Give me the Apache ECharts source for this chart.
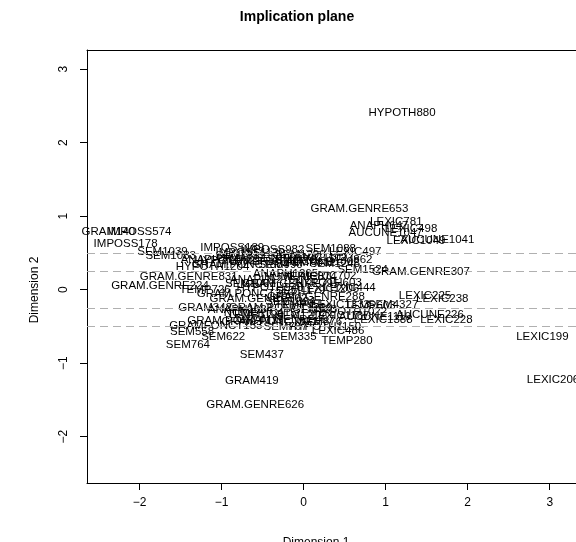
<!DOCTYPE html>
<html>
<head>
<meta charset="utf-8">
<script src="https://cdn.jsdelivr.net/npm/echarts@6/dist/echarts.min.js"></script>
<style>
  html, body { margin: 0; padding: 0; background: #fff; }
  #chart { width: 576px; height: 542px; }
</style>
</head>
<body>
<div id="chart"></div>
<script>
// Modality labels and their coordinates on the first two dimensions
const labels = [
  'HYPOTH880', 'GRAM.GENRE653', 'LEXIC781', 'ANAPH647', 'LEXIC498', 'AUCUNE1047',
  'LEXIC1049', 'AUCUNE1041', 'IMPOSS574', 'GRAM140', 'IMPOSS178', 'SEM1039',
  'SEM1033', 'IMPOSS189', 'IMPOSS982', 'SEM1088', 'LEXIC497', 'SEM862',
  'HYPOTH1204', 'GRAM.GENRE307', 'SEM1524', 'NUMERIC874', 'GRAM.GENRE831', 'GRAM.GENRE224',
  'ANAPH1276', 'TEMP726', 'GRAM.PONCT356', 'LEXIC444', 'HYPOTH603', 'GRAM.GENRE288',
  'LEXIC225', 'LEXIC238', 'SEM4327', 'AUCUNE226', 'LEXIC228', 'LEXIC1388',
  'LEXIC486', 'TEMP280', 'SEM335', 'GRAMFONCT153', 'SEM767', 'HYPOTH1150',
  'GRAM.PONCT117', 'SEM558', 'SEM622', 'SEM764', 'SEM437', 'GRAM419',
  'GRAM.GENRE626', 'GRAM342', 'TEMP1190', 'LEXIC199', 'LEXIC206',
  'SEM1311', 'GRAM.GENRE910', 'SEM1290', 'LEXIC1102', 'HYPOTH921', 'NUMERIC640',
  'SEM1172', 'AUCUNE1002', 'GRAM.PONCT884', 'SEM990', 'TEMP812', 'ANAPH774',
  'SEM1245', 'IMPOSS1120', 'ANAPH1265', 'NUMERIC702', 'SEM1061', 'GRAM.GENRE795',
  'LEXIC1206', 'HYPOTH948', 'SEM1179', 'GRAM.GENRE502', 'SEM1384', 'LEXIC1333',
  'TEMP603', 'GRAM.PONCT1210', 'SEM933', 'HYPOTH1022', 'NUMERIC415', 'SEM1217',
  'LEXIC1167', 'AUCUNE1119', 'GRAM.GENRE467', 'SEM876', 'TEMP955', 'ANAPH1084',
  'GRAM.PONCT671'
];
const dim1 = [
  1.20, 0.68, 1.13, 0.92, 1.31, 1.00,
  1.37, 1.63, -2.00, -2.38, -2.17, -1.72,
  -1.62, -0.87, -0.38, 0.33, 0.63, 0.57,
  -1.11, 1.43, 0.72, -0.04, -1.40, -1.75,
  -0.50, -1.20, -0.71, 0.56, 0.30, 0.15,
  1.48, 1.69, 1.09, 1.54, 1.74, 0.97,
  0.42, 0.53, -0.11, -1.07, -0.22, 0.26,
  -0.83, -1.36, -0.98, -1.41, -0.51, -0.63,
  -0.59, -1.20, -0.59, 2.91, 3.04,
  -0.77, -0.47, -0.04, 0.18, -0.92, -0.50,
  -0.14, 0.23, -0.77, -0.28, 0.08, -1.14,
  0.38, -0.65, -0.22, 0.20, -0.65, -0.16,
  0.32, -0.41, -0.04, -0.55, -0.16, 0.45,
  0.81, -0.28, 0.14, 0.57, -0.53, -0.04,
  0.45, 0.87, -0.22, 0.20, -0.04, -0.77,
  -0.41
];
const dim2 = [
  2.41, 1.10, 0.92, 0.87, 0.83, 0.77,
  0.67, 0.68, 0.78, 0.79, 0.62, 0.51,
  0.46, 0.57, 0.54, 0.55, 0.51, 0.40,
  0.31, 0.24, 0.27, 0.17, 0.17, 0.05,
  0.13, 0.00, -0.06, 0.02, 0.09, -0.10,
  -0.09, -0.13, -0.21, -0.34, -0.41, -0.41,
  -0.56, -0.70, -0.64, -0.49, -0.51, -0.51,
  -0.43, -0.58, -0.64, -0.75, -0.89, -1.24,
  -1.56, -0.25, -0.34, -0.64, -1.22,
  0.46, 0.43, 0.47, 0.43, 0.39, 0.38,
  0.40, 0.38, 0.34, 0.34, 0.36, 0.40,
  0.35, 0.50, 0.21, 0.19, 0.08, 0.08,
  0.01, 0.02, -0.02, -0.13, -0.17, -0.20,
  -0.22, -0.25, -0.27, -0.30, -0.32, -0.36,
  -0.36, -0.37, -0.41, -0.44, -0.21, -0.28,
  -0.44
];
// Reference levels on dimension 2
const cutLevels = [0.5, 0.25, -0.25, -0.5];
// Tick positions
const xTicks = [-2, -1, 0, 1, 2, 3];
const yTicks = [-2, -1, 0, 1, 2, 3];

const FONT = "'Liberation Sans', Arial, Helvetica, sans-serif";
const minus = v => String(v).replace('-', '\u2212');
const X_MIN = -2.64, X_MAX = 3.32;
const Y_MIN = -2.63, Y_MAX = 3.26;

const points = labels.map((name, i) => ({ name: name, value: [dim1[i], dim2[i]] }));

const chart = echarts.init(document.getElementById('chart'), null, { renderer: 'canvas' });
chart.setOption({
  animation: false,
  backgroundColor: '#ffffff',
  textStyle: { fontFamily: FONT },
  title: {
    text: 'Implication plane',
    left: 292, top: 5, textAlign: 'center',
    textStyle: { fontFamily: FONT, fontWeight: 'bold', fontSize: 14, color: '#000' }
  },
  // the plot box is open on the right: it continues past the canvas edge
  grid: { left: 87, top: 50, bottom: 59, right: 0, show: false },
  xAxis: [
    {
      type: 'value', min: X_MIN, max: X_MAX, position: 'bottom',
      axisLine: { show: true, onZero: false, lineStyle: { color: '#000', width: 1 } },
      splitLine: { show: false },
      axisTick: { show: true, length: 7, customValues: xTicks, lineStyle: { color: '#000' } },
      axisLabel: {
        customValues: xTicks, margin: 14, fontSize: 12, color: '#000', fontFamily: FONT,
        formatter: minus
      }
    },
    {
      type: 'value', min: X_MIN, max: X_MAX, position: 'top',
      axisLine: { show: true, onZero: false, lineStyle: { color: '#000', width: 1 } },
      splitLine: { show: false }, axisTick: { show: false }, axisLabel: { show: false }
    }
  ],
  yAxis: {
    type: 'value', min: Y_MIN, max: Y_MAX,
    axisLine: { show: true, onZero: false, lineStyle: { color: '#000', width: 1 } },
    splitLine: { show: false },
    axisTick: { show: true, length: 7, customValues: yTicks, lineStyle: { color: '#000' } },
    axisLabel: {
      customValues: yTicks, margin: 17, fontSize: 12, color: '#000', fontFamily: FONT,
      rotate: 90, formatter: minus
    }
  },
  graphic: [
    {
      type: 'text', x: 316, y: 537,
      style: { text: 'Dimension 1', textAlign: 'center', fill: '#000', fontSize: 12, fontFamily: FONT }
    },
    {
      type: 'text', x: 35, y: 290, rotation: Math.PI / 2,
      style: { text: 'Dimension 2', textAlign: 'center', textVerticalAlign: 'middle', fill: '#000', fontSize: 12, fontFamily: FONT }
    }
  ],
  series: [{
    type: 'scatter',
    silent: true,
    symbolSize: 0.01,
    itemStyle: { color: 'transparent', opacity: 1 },
    data: points,
    label: {
      show: true, position: 'inside', formatter: '{b}', opacity: 1,
      color: '#000', fontSize: 11.5, fontFamily: FONT
    },
    markLine: {
      silent: true,
      symbol: ['none', 'none'],
      label: { show: false },
      lineStyle: { color: '#b0b0b0', type: [8, 5], width: 1.2, opacity: 1 },
      data: cutLevels.map(v => ({ yAxis: v }))
    }
  }]
});
</script>
</body>
</html>
